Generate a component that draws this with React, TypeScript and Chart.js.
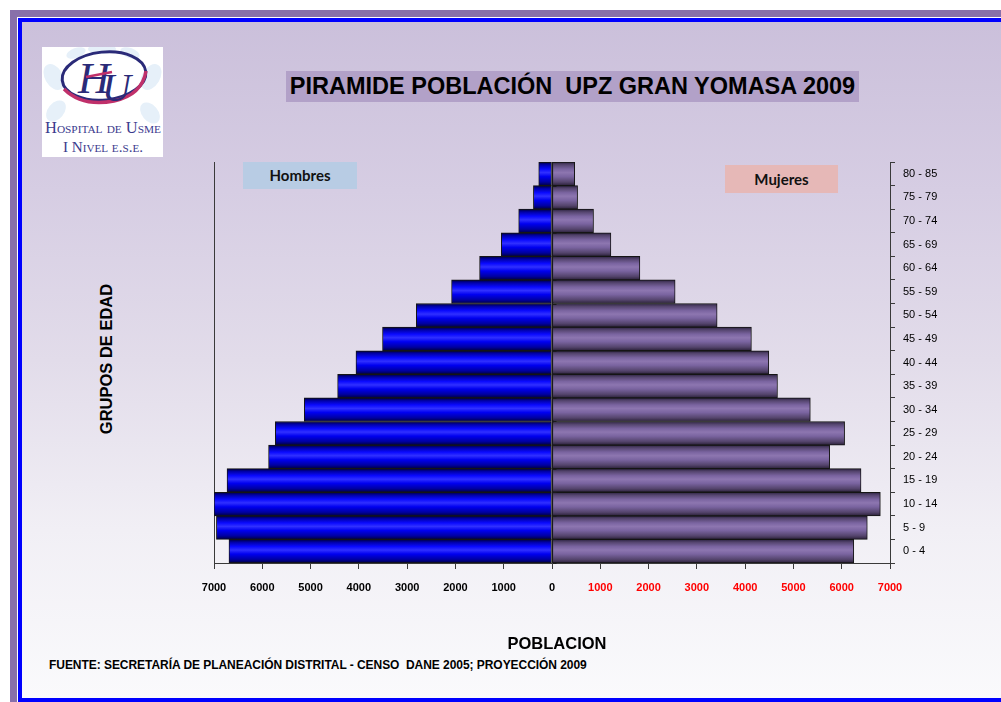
import React, { useEffect, useRef } from "react";
import { Chart, registerables } from "chart.js";

Chart.register(...registerables);

// ---- data (bottom to top) ----
const ageGroups = [
  "0 - 4", "5 - 9", "10 - 14", "15 - 19", "20 - 24", "25 - 29", "30 - 34", "35 - 39",
  "40 - 44", "45 - 49", "50 - 54", "55 - 59", "60 - 64", "65 - 69", "70 - 74", "75 - 79", "80 - 85",
];
const hombres = [6690, 6950, 7000, 6730, 5870, 5730, 5130, 4440, 4060, 3510, 2810, 2080, 1500, 1050, 690, 385, 275];
const mujeres = [6250, 6530, 6800, 6400, 5750, 6060, 5350, 4670, 4490, 4130, 3420, 2550, 1820, 1220, 860, 530, 470];
const xMin = -7000;
const xMax = 7000;
const xStep = 1000;

const FONT = "'Liberation Sans', Arial, sans-serif";
const AXIS = "#3a3a3a";

const blueStops: [number, string][] = [
  [0, "#00003a"], [0.12, "#0000a8"], [0.3, "#0a0aff"], [0.45, "#3030ff"],
  [0.62, "#0000f0"], [0.85, "#0000a0"], [1, "#000040"],
];
const purpleStops: [number, string][] = [
  [0, "#2c2240"], [0.12, "#55456f"], [0.3, "#7a64a0"], [0.45, "#8d76b0"],
  [0.62, "#7a64a0"], [0.85, "#54446c"], [1, "#2a2038"],
];

function barGradient(stops: [number, string][]) {
  return (ctx: any) => {
    const chart = ctx.chart;
    const area = chart.chartArea;
    const y = chart.scales && chart.scales.y;
    if (!area || !y || ctx.dataIndex === undefined) return stops[3][1];
    const c = y.getPixelForValue(ctx.dataIndex);
    const h = area.height / ageGroups.length;
    const g = chart.ctx.createLinearGradient(0, c - h / 2, 0, c + h / 2);
    stops.forEach(([o, col]) => g.addColorStop(o, col));
    return g;
  };
}

const centerLinePlugin = {
  id: "centerLine",
  afterDatasetsDraw(chart: any) {
    const { ctx, chartArea, scales } = chart;
    const x0 = Math.round(scales.x.getPixelForValue(0)) + 0.5;
    const n = ageGroups.length;
    const h = chartArea.height / n;
    ctx.save();
    ctx.strokeStyle = "#1a1a1a";
    ctx.lineWidth = 1;
    ctx.beginPath();
    ctx.moveTo(x0, chartArea.top);
    ctx.lineTo(x0, chartArea.bottom);
    for (let i = 0; i <= n; i++) {
      const yy = Math.round(chartArea.top + i * h) + 0.5;
      ctx.moveTo(x0, yy);
      ctx.lineTo(x0 + 4, yy);
    }
    ctx.stroke();
    ctx.restore();
  },
};

function PyramidChart() {
  const ref = useRef<HTMLCanvasElement | null>(null);
  useEffect(() => {
    if (!ref.current) return;
    const common = {
      borderColor: "#151515",
      borderWidth: 1,
      borderSkipped: false as any,
      barPercentage: 1,
      categoryPercentage: 1,
    };
    const chart = new Chart(ref.current, {
      type: "bar",
      data: {
        labels: ageGroups,
        datasets: [
          { label: "Hombres", data: hombres.map((v) => -v), backgroundColor: barGradient(blueStops) as any, ...common },
          { label: "Mujeres", data: mujeres, backgroundColor: barGradient(purpleStops) as any, ...common },
        ],
      },
      options: {
        indexAxis: "y",
        animation: false,
        responsive: false,
        events: [],
        layout: { padding: { left: 64, top: 22, right: 0, bottom: 0 } },
        plugins: { legend: { display: false }, tooltip: { enabled: false }, title: { display: false } },
        scales: {
          x: {
            type: "linear",
            position: "bottom",
            min: xMin,
            max: xMax,
            stacked: true,
            ticks: {
              stepSize: xStep,
              autoSkip: false,
              maxRotation: 0,
              padding: 12,
              callback: (v: any) => String(Math.abs(Number(v))),
              color: (c: any) => (c.tick && c.tick.value > 0 ? "#ff0000" : "#000000"),
              font: { family: FONT, size: 11, weight: "bold" },
            },
            grid: { display: true, drawOnChartArea: false, drawTicks: true, tickLength: 6, color: AXIS },
            border: { display: true, color: AXIS, width: 1 },
            afterFit: (s: any) => { s.height = 77; },
          },
          y: {
            type: "category",
            position: "right",
            reverse: true,
            stacked: true,
            ticks: { color: "#000", padding: 8, font: { family: FONT, size: 11 } },
            grid: { display: true, drawOnChartArea: false, drawTicks: true, tickLength: 5, color: AXIS, offset: true },
            border: { display: true, color: AXIS, width: 1 },
            afterFit: (s: any) => { s.width = 111; },
          },
          y2: {
            type: "category",
            position: "left",
            grid: { display: false },
            ticks: { display: false },
            border: { display: true, color: AXIS, width: 1 },
            afterFit: (s: any) => { s.width = 0; },
          },
        } as any,
      },
      plugins: [centerLinePlugin],
    });
    return () => chart.destroy();
  }, []);
  return <canvas ref={ref} width={851} height={500} style={{ position: "absolute", left: 150, top: 140, width: 851, height: 500 }} />;
}

function Logo() {
  return (
    <svg width={121} height={110} style={{ position: "absolute", left: 42, top: 47 }}>
      <rect x={0} y={0} width={121} height={110} fill="#ffffff" />
      <g fill="#e4eff9" opacity={0.9}>
        <ellipse cx={12} cy={30} rx={9} ry={14} transform="rotate(-30 12 30)" />
        <ellipse cx={109} cy={30} rx={9} ry={14} transform="rotate(30 109 30)" />
        <ellipse cx={14} cy={64} rx={8} ry={12} transform="rotate(40 14 64)" />
        <ellipse cx={108} cy={66} rx={8} ry={12} transform="rotate(-40 108 66)" />
        <ellipse cx={60} cy={2} rx={14} ry={5} />
        <ellipse cx={34} cy={6} rx={10} ry={5} transform="rotate(-20 34 6)" />
        <ellipse cx={88} cy={6} rx={10} ry={5} transform="rotate(20 88 6)" />
      </g>
      <ellipse cx={62} cy={29} rx={42} ry={24} fill="none" stroke="#2a2a78" strokeWidth={3} transform="rotate(-6 62 29)" />
      <path d="M 22 42 Q 40 60 72 54 Q 100 48 104 24" fill="none" stroke="#c0306a" strokeWidth={3.4} />
      <text x={36} y={46} fontFamily="'Liberation Serif', serif" fontStyle="italic" fontSize={44} fill="#2a2a78">H</text>
      <text x={60} y={54} fontFamily="'Liberation Serif', serif" fontStyle="italic" fontSize={40} fill="#2a2a78">U</text>
      <path d="M 44 30 L 70 25" stroke="#c0306a" strokeWidth={2.5} />
      <text x={61} y={86} textAnchor="middle" textLength={116} lengthAdjust="spacingAndGlyphs"
        fontFamily="'Liberation Serif', serif" fontSize={16} fill="#3b3b8e" style={{ fontVariant: "small-caps" }}>Hospital de Usme</text>
      <text x={61} y={105} textAnchor="middle" textLength={80} lengthAdjust="spacingAndGlyphs"
        fontFamily="'Liberation Serif', serif" fontSize={15} fill="#3b3b8e" style={{ fontVariant: "small-caps" }}>I Nivel e.s.e.</text>
    </svg>
  );
}

export default function App() {
  return (
    <div style={{ position: "fixed", left: 0, top: 0, width: 1001, height: 702, overflow: "hidden", background: "#ffffff" }}>
      <div style={{ position: "absolute", left: 10, top: 10, width: 1100, height: 800, background: "#8870aa" }} />
      <div style={{ position: "absolute", left: 17, top: 17, width: 1100, height: 800, background: "#ffffff" }} />
      <div
        style={{
          position: "absolute", left: 18, top: 18, width: 1100, height: 684, boxSizing: "border-box",
          border: "4px solid #0000ff",
          background: "linear-gradient(to bottom, #cbc0db 0%, #d6cde3 25%, #e2dcea 50%, #f1eff5 75%, #fafafc 100%)",
        }}
      />
      <Logo />
      <div
        style={{
          position: "absolute", left: 286, top: 71, width: 573, height: 31, background: "#b2a1c8",
          fontFamily: FONT, fontWeight: "bold", fontSize: 23.5, lineHeight: "31px", textAlign: "center", color: "#000",
          whiteSpace: "pre",
        }}
      >
        PIRAMIDE POBLACIÓN  UPZ GRAN YOMASA 2009
      </div>
      <PyramidChart />
      <div
        style={{
          position: "absolute", left: 243, top: 162, width: 114, height: 27, background: "#b8cce4",
          fontFamily: "Lato, 'Open Sans', sans-serif", fontWeight: "bold", fontSize: 15, lineHeight: "27px",
          textAlign: "center", color: "#111",
        }}
      >
        Hombres
      </div>
      <div
        style={{
          position: "absolute", left: 725, top: 165, width: 113, height: 28, background: "#e6b8b7",
          fontFamily: "Lato, 'Open Sans', sans-serif", fontWeight: "bold", fontSize: 15, lineHeight: "28px",
          textAlign: "center", color: "#111",
        }}
      >
        Mujeres
      </div>
      <div style={{ position: "absolute", left: 106, top: 359, width: 0, height: 0 }}>
        <div
          style={{
            position: "absolute", left: -100, top: -10, width: 200, height: 20, lineHeight: "20px",
            transform: "rotate(-90deg)", textAlign: "center", fontFamily: FONT, fontWeight: "bold", fontSize: 16.5, color: "#000",
            whiteSpace: "nowrap",
          }}
        >
          GRUPOS DE EDAD
        </div>
      </div>
      <div
        style={{
          position: "absolute", left: 457, top: 633, width: 200, textAlign: "center", fontFamily: FONT,
          fontWeight: "bold", fontSize: 16.5, lineHeight: "20px", color: "#000",
        }}
      >
        POBLACION
      </div>
      <div
        style={{
          position: "absolute", left: 49, top: 658, fontFamily: FONT, fontWeight: "bold", fontSize: 12,
          lineHeight: "14px", color: "#000", whiteSpace: "pre", letterSpacing: -0.05,
        }}
      >
        FUENTE: SECRETARÍA DE PLANEACIÓN DISTRITAL - CENSO  DANE 2005; PROYECCIÓN 2009
      </div>
    </div>
  );
}
